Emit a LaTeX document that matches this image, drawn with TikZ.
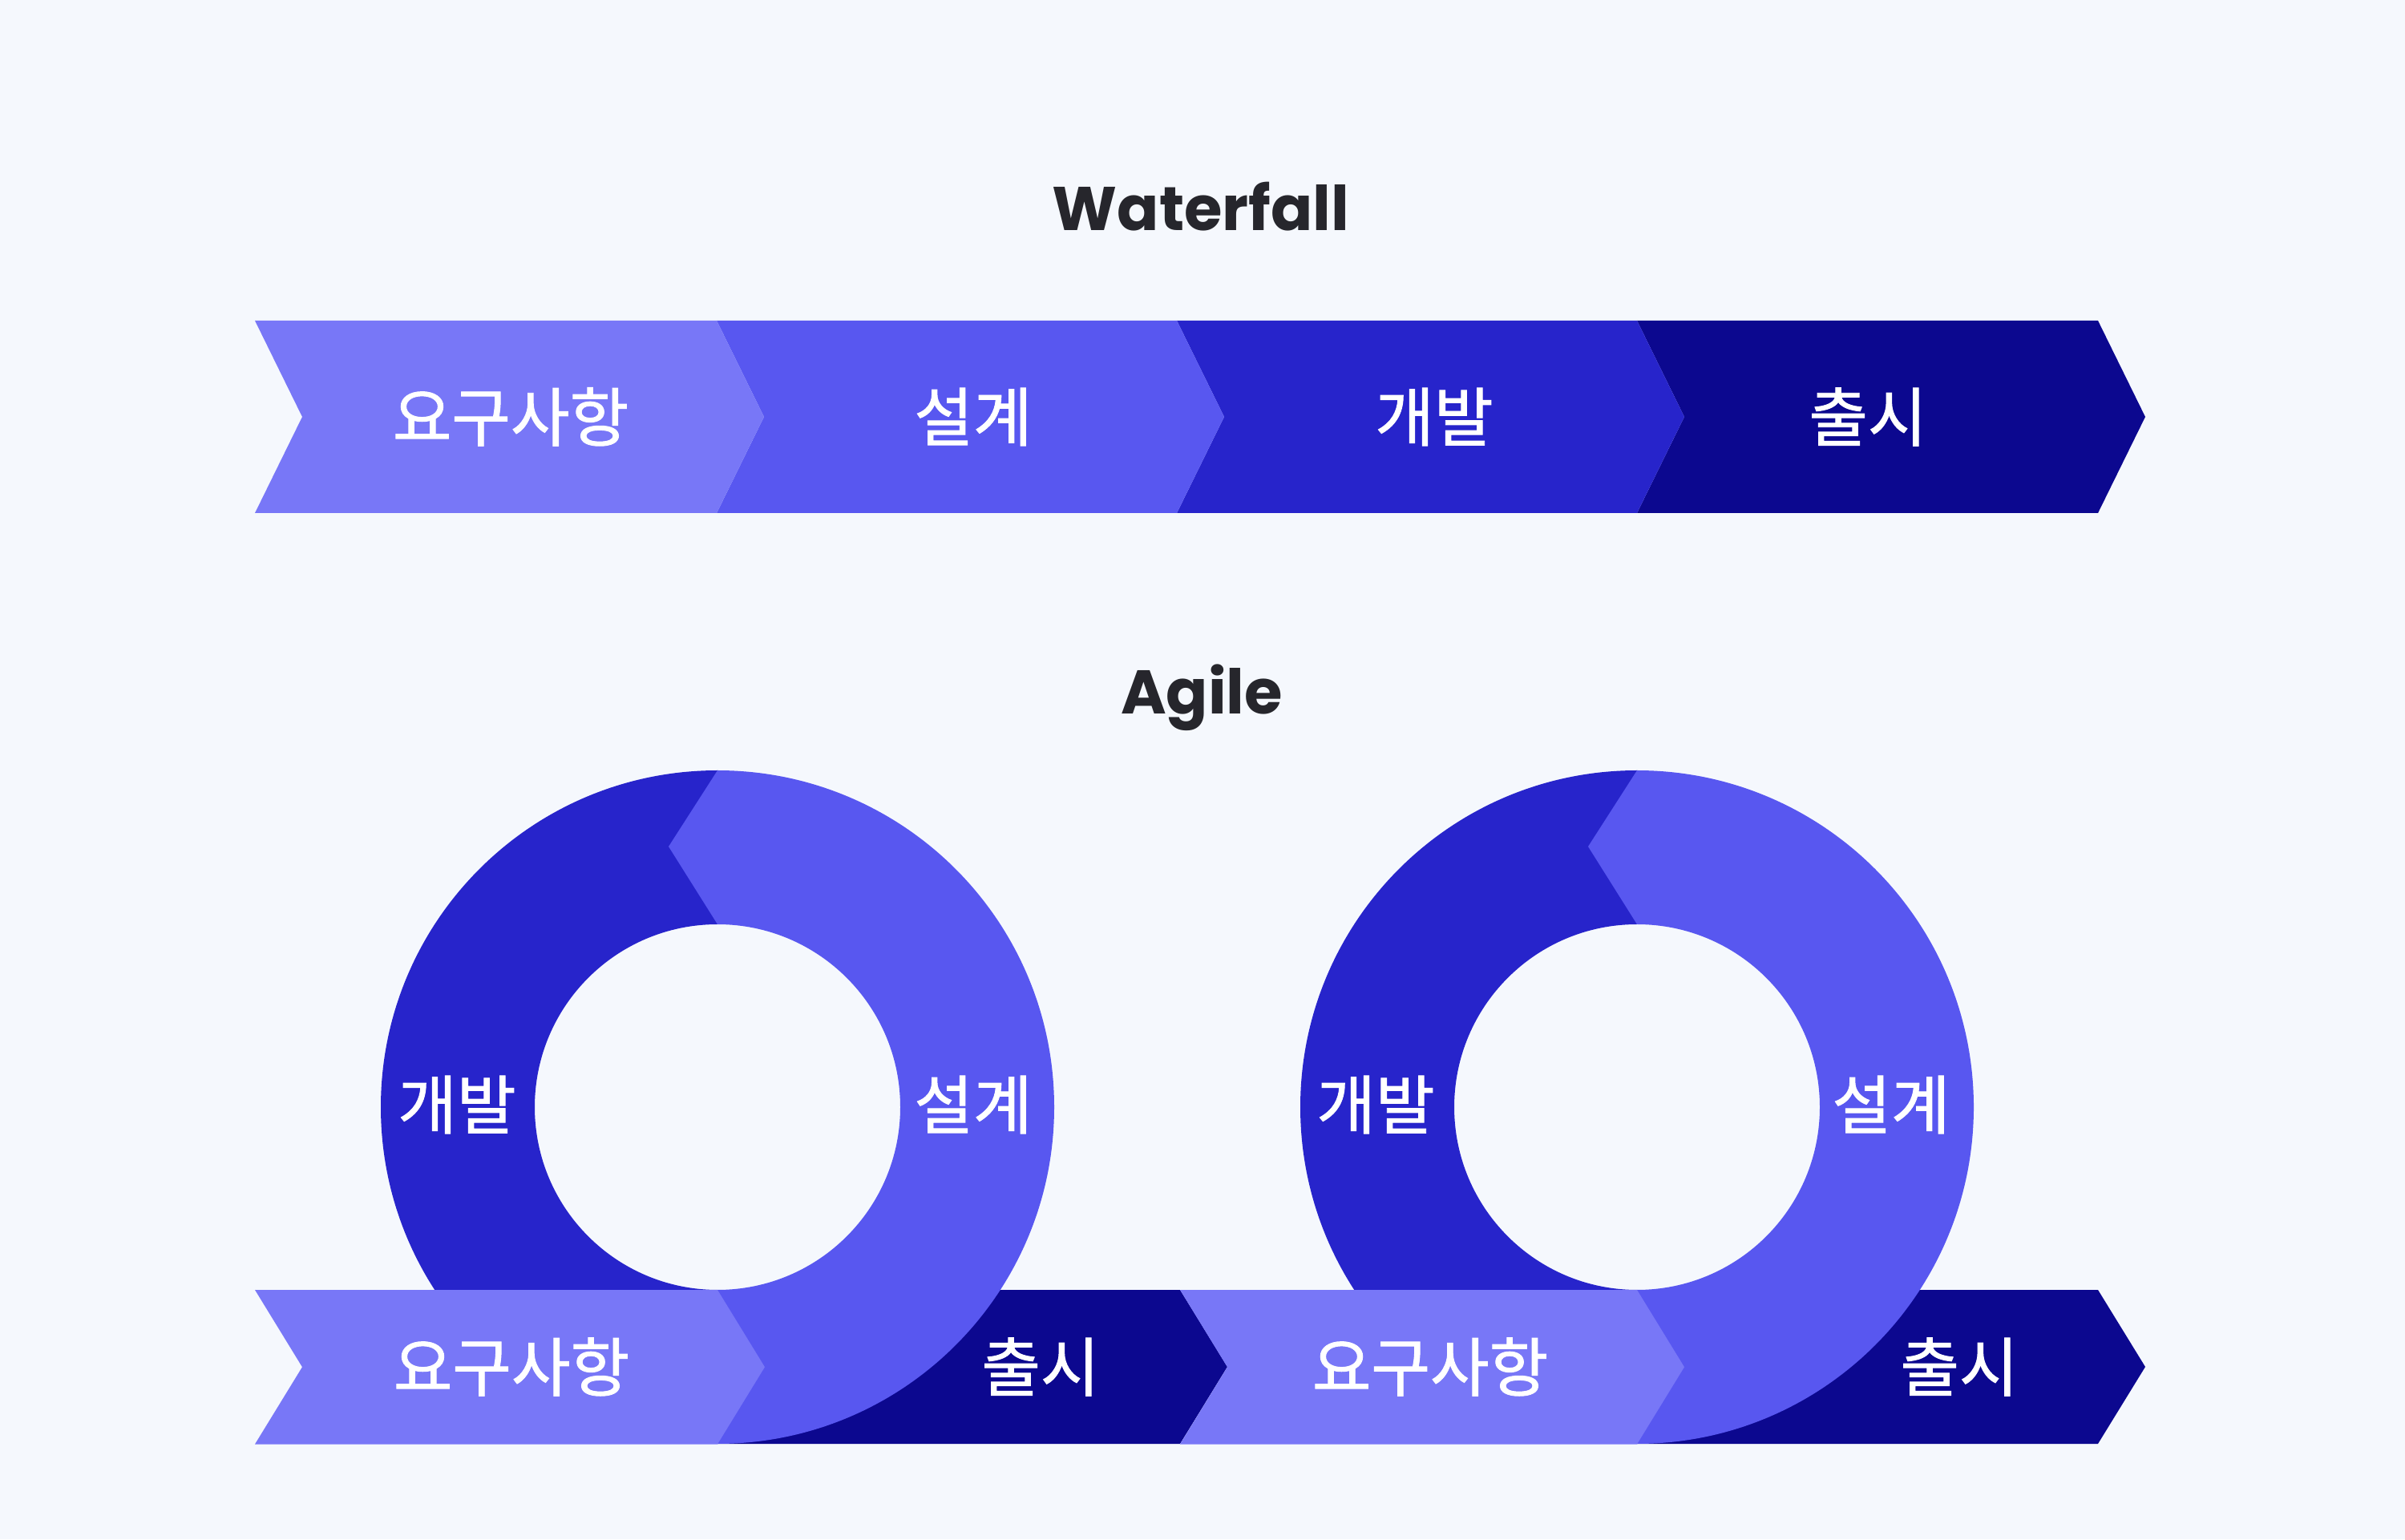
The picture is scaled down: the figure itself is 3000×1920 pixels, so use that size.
\documentclass[tikz,border=0pt]{standalone}
\usepackage{fontspec}
\newfontfamily\pop{Poppins}
\newfontfamily\kr{Noto Sans CJK KR}[FakeBold=1.2]
\definecolor{bg}{HTML}{F5F8FD}
\definecolor{cA}{HTML}{7877F7}
\definecolor{cB}{HTML}{5857F0}
\definecolor{cC}{HTML}{2724CB}
\definecolor{cD}{HTML}{0C088F}
\definecolor{ttl}{HTML}{26262C}
% color, x left, x right base, y top, y bottom, notch factor
\newcommand\mychev[6]{%
  \fill[#1] (#2,#4) -- (#3,#4) -- ({#3+59},{(#4+#5)/2}) -- (#3,#5) -- (#2,#5)
    -- ({#2+59*#6},{(#4+#5)/2}) -- cycle;}
% ring at centre x
\newcommand\myring[1]{%
  \fill[cC] (#1,959) arc[start angle=90,end angle=270,radius=420] -- (#1,311)
    arc[start angle=270,end angle=90,radius=228] -- cycle;
  \fill[cB] (#1,119) arc[start angle=-90,end angle=90,radius=420] -- ({#1-61},864)
    -- (#1,767) arc[start angle=90,end angle=-90,radius=228] -- cycle;}
\begin{document}
\begin{tikzpicture}[x=1pt,y=1pt,
  lbl/.style={text=white,font=\kr\fontsize{80}{80}\selectfont,inner sep=0pt},
  ttlstyle/.style={text=ttl,font=\pop\bfseries\fontsize{77}{77}\selectfont,inner sep=0pt,anchor=base}]
\fill[bg] (0,0) rectangle (3000,1920);
\useasboundingbox (0,0) rectangle (3000,1920);

% Waterfall
\node[ttlstyle] (wt) at (1498,1632) {Waterfall};
\mychev{cD}{2042}{2617}{1520}{1280}{1}
\mychev{cC}{1468}{2042}{1520}{1280}{1}
\mychev{cB}{894}{1468}{1520}{1280}{1}
\mychev{cA}{318}{894}{1520}{1280}{1}
\node[lbl] (w1) at (637,1400) {요구사항};
\node[lbl] (w2) at (1214,1400) {설계};
\node[lbl] (w3) at (1789,1400) {개발};
\node[lbl] (w4) at (2330,1400) {출시};

% Agile
\node[ttlstyle] (at) at (1499,1029) {Agile};
\mychev{cD}{895}{1472}{311}{119}{0}
\mychev{cD}{2042}{2617}{311}{119}{0}
\myring{895}
\myring{2042}
\mychev{cA}{318}{895}{311}{118.5}{1}
\mychev{cA}{1472}{2042}{311}{118.5}{1}
\node[lbl] (a1) at (570,542) {개발};
\node[lbl] (a2) at (1214,542) {설계};
\node[lbl] (a3) at (1716,542) {개발};
\node[lbl] (a4) at (2359,542) {설계};
\node[lbl] (b1) at (638,215) {요구사항};
\node[lbl] (b2) at (1298,215) {출시};
\node[lbl] (b3) at (1784,215) {요구사항};
\node[lbl] (b4) at (2444,215) {출시};
\end{tikzpicture}
\end{document}
